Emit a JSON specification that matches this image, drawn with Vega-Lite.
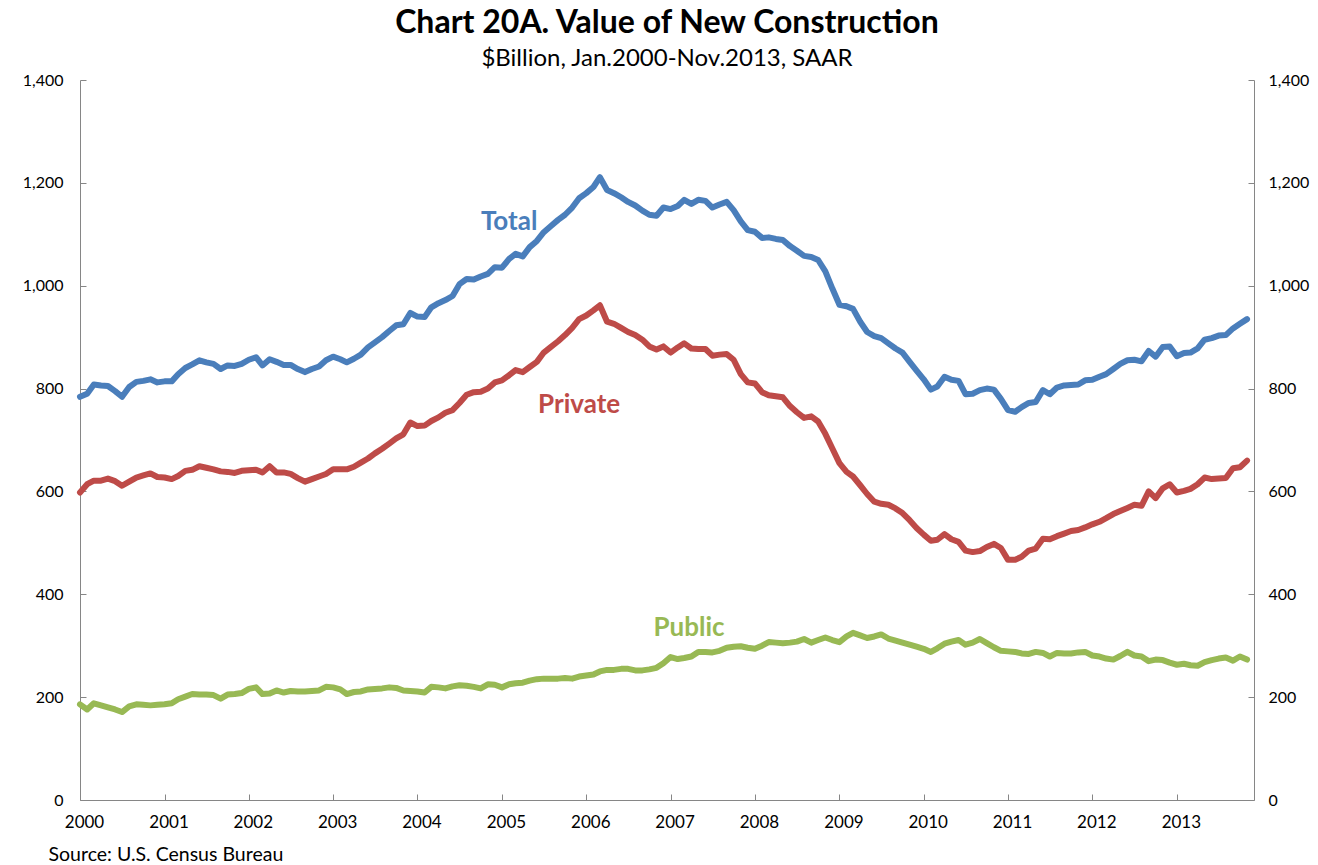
{
  "$schema": "https://vega.github.io/schema/vega-lite/v6.json",
  "width": 1174,
  "height": 720,
  "autosize": {"type": "none"},
  "padding": {"left": 80, "top": 80, "right": 64, "bottom": 65},
  "background": "white",
  "config": {
    "font": "Lato",
    "view": {"stroke": null},
    "axis": {
      "grid": false,
      "domainColor": "#868686",
      "tickColor": "#868686",
      "domainWidth": 1,
      "tickWidth": 1,
      "tickSize": -6,
      "labelFont": "Lato",
      "labelFontSize": 16,
      "labelColor": "#000000"
    }
  },
  "title": {
    "text": "Chart 20A. Value of New Construction",
    "subtitle": "$Billion, Jan.2000-Nov.2013, SAAR",
    "font": "Lato",
    "subtitleFont": "Lato",
    "fontSize": 32,
    "fontWeight": "bold",
    "subtitleFontSize": 24,
    "color": "#000000",
    "subtitleColor": "#000000",
    "anchor": "middle",
    "offset": 0,
    "subtitlePadding": 7
  },
  "datasets": {
    "cons": [
      {"d":"2000-01-01","total":784,"private":598,"public":186},
      {"d":"2000-02-01","total":790,"private":614,"public":176},
      {"d":"2000-03-01","total":808,"private":621,"public":188},
      {"d":"2000-04-01","total":806,"private":621,"public":184},
      {"d":"2000-05-01","total":805,"private":625,"public":180},
      {"d":"2000-06-01","total":795,"private":620,"public":176},
      {"d":"2000-07-01","total":784,"private":611,"public":171},
      {"d":"2000-08-01","total":803,"private":619,"public":182},
      {"d":"2000-09-01","total":813,"private":627,"public":186},
      {"d":"2000-10-01","total":815,"private":631,"public":185},
      {"d":"2000-11-01","total":818,"private":635,"public":184},
      {"d":"2000-12-01","total":812,"private":628,"public":185},
      {"d":"2001-01-01","total":814,"private":627,"public":186},
      {"d":"2001-02-01","total":814,"private":624,"public":188},
      {"d":"2001-03-01","total":828,"private":630,"public":196},
      {"d":"2001-04-01","total":840,"private":640,"public":201},
      {"d":"2001-05-01","total":847,"private":642,"public":206},
      {"d":"2001-06-01","total":855,"private":649,"public":205},
      {"d":"2001-07-01","total":851,"private":646,"public":205},
      {"d":"2001-08-01","total":848,"private":643,"public":204},
      {"d":"2001-09-01","total":838,"private":639,"public":197},
      {"d":"2001-10-01","total":845,"private":638,"public":205},
      {"d":"2001-11-01","total":844,"private":636,"public":206},
      {"d":"2001-12-01","total":848,"private":640,"public":208},
      {"d":"2002-01-01","total":856,"private":641,"public":216},
      {"d":"2002-02-01","total":861,"private":642,"public":219},
      {"d":"2002-03-01","total":845,"private":637,"public":206},
      {"d":"2002-04-01","total":857,"private":649,"public":207},
      {"d":"2002-05-01","total":852,"private":637,"public":213},
      {"d":"2002-06-01","total":846,"private":637,"public":209},
      {"d":"2002-07-01","total":846,"private":634,"public":212},
      {"d":"2002-08-01","total":838,"private":626,"public":211},
      {"d":"2002-09-01","total":832,"private":619,"public":211},
      {"d":"2002-10-01","total":838,"private":624,"public":212},
      {"d":"2002-11-01","total":843,"private":629,"public":213},
      {"d":"2002-12-01","total":855,"private":634,"public":220},
      {"d":"2003-01-01","total":862,"private":643,"public":219},
      {"d":"2003-02-01","total":857,"private":643,"public":215},
      {"d":"2003-03-01","total":851,"private":643,"public":206},
      {"d":"2003-04-01","total":858,"private":648,"public":210},
      {"d":"2003-05-01","total":866,"private":656,"public":211},
      {"d":"2003-06-01","total":880,"private":664,"public":215},
      {"d":"2003-07-01","total":890,"private":674,"public":216},
      {"d":"2003-08-01","total":900,"private":683,"public":217},
      {"d":"2003-09-01","total":912,"private":693,"public":219},
      {"d":"2003-10-01","total":923,"private":703,"public":218},
      {"d":"2003-11-01","total":925,"private":711,"public":213},
      {"d":"2003-12-01","total":947,"private":734,"public":212},
      {"d":"2004-01-01","total":940,"private":727,"public":211},
      {"d":"2004-02-01","total":939,"private":728,"public":209},
      {"d":"2004-03-01","total":958,"private":737,"public":220},
      {"d":"2004-04-01","total":966,"private":744,"public":219},
      {"d":"2004-05-01","total":972,"private":753,"public":217},
      {"d":"2004-06-01","total":980,"private":758,"public":221},
      {"d":"2004-07-01","total":1003,"private":772,"public":223},
      {"d":"2004-08-01","total":1013,"private":788,"public":222},
      {"d":"2004-09-01","total":1012,"private":793,"public":220},
      {"d":"2004-10-01","total":1018,"private":794,"public":217},
      {"d":"2004-11-01","total":1023,"private":800,"public":225},
      {"d":"2004-12-01","total":1036,"private":812,"public":224},
      {"d":"2005-01-01","total":1035,"private":816,"public":219},
      {"d":"2005-02-01","total":1052,"private":826,"public":225},
      {"d":"2005-03-01","total":1062,"private":836,"public":227},
      {"d":"2005-04-01","total":1057,"private":832,"public":228},
      {"d":"2005-05-01","total":1075,"private":842,"public":232},
      {"d":"2005-06-01","total":1087,"private":852,"public":235},
      {"d":"2005-07-01","total":1104,"private":870,"public":236},
      {"d":"2005-08-01","total":1116,"private":881,"public":236},
      {"d":"2005-09-01","total":1128,"private":892,"public":236},
      {"d":"2005-10-01","total":1138,"private":904,"public":237},
      {"d":"2005-11-01","total":1152,"private":918,"public":236},
      {"d":"2005-12-01","total":1170,"private":935,"public":240},
      {"d":"2006-01-01","total":1180,"private":942,"public":242},
      {"d":"2006-02-01","total":1192,"private":952,"public":244},
      {"d":"2006-03-01","total":1211,"private":962,"public":250},
      {"d":"2006-04-01","total":1186,"private":930,"public":253},
      {"d":"2006-05-01","total":1180,"private":926,"public":253},
      {"d":"2006-06-01","total":1172,"private":918,"public":255},
      {"d":"2006-07-01","total":1163,"private":910,"public":255},
      {"d":"2006-08-01","total":1156,"private":904,"public":252},
      {"d":"2006-09-01","total":1146,"private":895,"public":252},
      {"d":"2006-10-01","total":1138,"private":882,"public":254},
      {"d":"2006-11-01","total":1136,"private":876,"public":257},
      {"d":"2006-12-01","total":1152,"private":882,"public":266},
      {"d":"2007-01-01","total":1149,"private":870,"public":278},
      {"d":"2007-02-01","total":1155,"private":880,"public":274},
      {"d":"2007-03-01","total":1167,"private":888,"public":276},
      {"d":"2007-04-01","total":1159,"private":878,"public":279},
      {"d":"2007-05-01","total":1167,"private":877,"public":288},
      {"d":"2007-06-01","total":1165,"private":877,"public":288},
      {"d":"2007-07-01","total":1152,"private":864,"public":287},
      {"d":"2007-08-01","total":1158,"private":866,"public":290},
      {"d":"2007-09-01","total":1163,"private":867,"public":296},
      {"d":"2007-10-01","total":1147,"private":856,"public":298},
      {"d":"2007-11-01","total":1125,"private":828,"public":299},
      {"d":"2007-12-01","total":1108,"private":812,"public":296},
      {"d":"2008-01-01","total":1105,"private":810,"public":294},
      {"d":"2008-02-01","total":1093,"private":793,"public":300},
      {"d":"2008-03-01","total":1094,"private":787,"public":307},
      {"d":"2008-04-01","total":1091,"private":785,"public":306},
      {"d":"2008-05-01","total":1089,"private":783,"public":305},
      {"d":"2008-06-01","total":1077,"private":766,"public":306},
      {"d":"2008-07-01","total":1068,"private":754,"public":308},
      {"d":"2008-08-01","total":1058,"private":743,"public":313},
      {"d":"2008-09-01","total":1056,"private":746,"public":306},
      {"d":"2008-10-01","total":1050,"private":736,"public":311},
      {"d":"2008-11-01","total":1028,"private":712,"public":316},
      {"d":"2008-12-01","total":995,"private":684,"public":311},
      {"d":"2009-01-01","total":963,"private":655,"public":307},
      {"d":"2009-02-01","total":960,"private":638,"public":318},
      {"d":"2009-03-01","total":955,"private":629,"public":325},
      {"d":"2009-04-01","total":930,"private":612,"public":320},
      {"d":"2009-05-01","total":910,"private":595,"public":315},
      {"d":"2009-06-01","total":902,"private":580,"public":318},
      {"d":"2009-07-01","total":898,"private":576,"public":322},
      {"d":"2009-08-01","total":888,"private":574,"public":314},
      {"d":"2009-09-01","total":878,"private":567,"public":310},
      {"d":"2009-10-01","total":870,"private":558,"public":306},
      {"d":"2009-11-01","total":852,"private":544,"public":302},
      {"d":"2009-12-01","total":835,"private":529,"public":298},
      {"d":"2010-01-01","total":818,"private":516,"public":294},
      {"d":"2010-02-01","total":798,"private":504,"public":288},
      {"d":"2010-03-01","total":804,"private":506,"public":295},
      {"d":"2010-04-01","total":823,"private":517,"public":304},
      {"d":"2010-05-01","total":817,"private":507,"public":308},
      {"d":"2010-06-01","total":815,"private":502,"public":311},
      {"d":"2010-07-01","total":789,"private":485,"public":302},
      {"d":"2010-08-01","total":790,"private":482,"public":306},
      {"d":"2010-09-01","total":797,"private":484,"public":313},
      {"d":"2010-10-01","total":800,"private":492,"public":305},
      {"d":"2010-11-01","total":798,"private":498,"public":297},
      {"d":"2010-12-01","total":780,"private":490,"public":290},
      {"d":"2011-01-01","total":758,"private":467,"public":289},
      {"d":"2011-02-01","total":755,"private":467,"public":288},
      {"d":"2011-03-01","total":764,"private":473,"public":285},
      {"d":"2011-04-01","total":772,"private":485,"public":284},
      {"d":"2011-05-01","total":774,"private":489,"public":288},
      {"d":"2011-06-01","total":797,"private":508,"public":286},
      {"d":"2011-07-01","total":789,"private":507,"public":279},
      {"d":"2011-08-01","total":802,"private":513,"public":286},
      {"d":"2011-09-01","total":806,"private":518,"public":285},
      {"d":"2011-10-01","total":807,"private":523,"public":285},
      {"d":"2011-11-01","total":808,"private":525,"public":287},
      {"d":"2011-12-01","total":816,"private":530,"public":288},
      {"d":"2012-01-01","total":817,"private":536,"public":281},
      {"d":"2012-02-01","total":823,"private":541,"public":279},
      {"d":"2012-03-01","total":828,"private":548,"public":275},
      {"d":"2012-04-01","total":838,"private":556,"public":273},
      {"d":"2012-05-01","total":848,"private":562,"public":280},
      {"d":"2012-06-01","total":855,"private":568,"public":288},
      {"d":"2012-07-01","total":856,"private":574,"public":281},
      {"d":"2012-08-01","total":853,"private":572,"public":279},
      {"d":"2012-09-01","total":873,"private":600,"public":270},
      {"d":"2012-10-01","total":862,"private":587,"public":273},
      {"d":"2012-11-01","total":881,"private":606,"public":272},
      {"d":"2012-12-01","total":882,"private":614,"public":267},
      {"d":"2013-01-01","total":863,"private":598,"public":263},
      {"d":"2013-02-01","total":869,"private":601,"public":265},
      {"d":"2013-03-01","total":870,"private":605,"public":262},
      {"d":"2013-04-01","total":878,"private":614,"public":261},
      {"d":"2013-05-01","total":895,"private":627,"public":268},
      {"d":"2013-06-01","total":898,"private":624,"public":272},
      {"d":"2013-07-01","total":903,"private":625,"public":275},
      {"d":"2013-08-01","total":904,"private":626,"public":277},
      {"d":"2013-09-01","total":917,"private":645,"public":271},
      {"d":"2013-10-01","total":926,"private":647,"public":279},
      {"d":"2013-11-01","total":935,"private":660,"public":273}
    ],
    "labels": [
      {"d":"2005-02-01","value":1124,"label":"Total"},
      {"d":"2005-12-01","value":768,"label":"Private"},
      {"d":"2007-03-22","value":334,"label":"Public"}
    ]
  },
  "data": {"name": "cons"},
  "resolve": {"axis": {"y": "independent"}},
  "layer": [
    {
      "mark": {"type": "line", "color": "#4A7EBB", "strokeWidth": 6, "strokeJoin": "round", "strokeCap": "round", "clip": false},
      "encoding": {
        "x": {
          "field": "d", "type": "temporal",
          "scale": {"type": "utc", "domain": [{"year": 2000, "month": 1, "date": 1, "utc": true}, {"year": 2013, "month": 12, "date": 1, "utc": true}]},
          "axis": {
            "format": "%Y",
            "tickCount": {"interval": "year", "step": 1},
            "labelOffset": 4,
            "labelFlush": false,
            "labelOverlap": false,
            "labelPadding": 20,
            "labelFontSize": 17,
            "title": "Source: U.S. Census Bureau",
            "titleFont": "Lato",
            "titleFontSize": 19.5,
            "titleFontWeight": "normal",
            "titleColor": "#000000",
            "titleAnchor": "start",
            "titleAlign": "left",
            "titleBaseline": "alphabetic",
            "titleX": -32,
            "titleY": 60
          }
        },
        "y": {
          "field": "total", "type": "quantitative",
          "scale": {"domain": [0, 1400], "nice": false, "zero": true},
          "axis": {"orient": "left", "values": [0, 200, 400, 600, 800, 1000, 1200, 1400], "format": ",d", "title": null, "labelPadding": 23}
        }
      }
    },
    {
      "mark": {"type": "line", "color": "#BE4B48", "strokeWidth": 6, "strokeJoin": "round", "strokeCap": "round", "clip": false},
      "encoding": {
        "x": {"field": "d", "type": "temporal"},
        "y": {
          "field": "private", "type": "quantitative",
          "axis": {"orient": "right", "values": [0, 200, 400, 600, 800, 1000, 1200, 1400], "format": ",d", "title": null, "labelPadding": 20}
        }
      }
    },
    {
      "mark": {"type": "line", "color": "#98B954", "strokeWidth": 6, "strokeJoin": "round", "strokeCap": "round", "clip": false},
      "encoding": {
        "x": {"field": "d", "type": "temporal"},
        "y": {"field": "public", "type": "quantitative", "axis": null}
      }
    },
    {
      "data": {"name": "labels"},
      "mark": {"type": "text", "font": "Lato", "fontSize": 26, "fontWeight": "bold", "align": "center", "baseline": "middle"},
      "encoding": {
        "x": {"field": "d", "type": "temporal"},
        "y": {"field": "value", "type": "quantitative", "axis": null},
        "text": {"field": "label"},
        "color": {"field": "label", "type": "nominal", "scale": {"domain": ["Total", "Private", "Public"], "range": ["#4A7EBB", "#BE4B48", "#98B954"]}, "legend": null}
      }
    }
  ]
}
